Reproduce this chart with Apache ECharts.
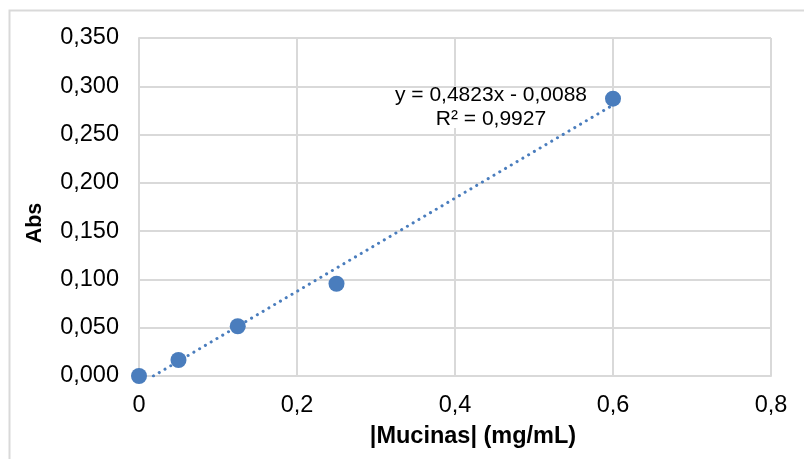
<!DOCTYPE html>
<html>
<head>
<meta charset="utf-8">
<script src="https://cdn.jsdelivr.net/npm/echarts@6/dist/echarts.min.js"></script>
<style>html,body{margin:0;padding:0;background:#fff;}#c{width:804px;height:459px;}</style>
</head>
<body>
<div id="c"></div>
<script>
// data
const concentrations = [0, 0.05, 0.125, 0.25, 0.6];
const absorbances = [0, 0.0166, 0.0515, 0.0955, 0.2872];
// trendline endpoints (from y = 0,4823x - 0,0088, clipped at y = 0)
const trendX = [0.01825, 0.6];
const trendY = [0, 0.2806];
const xTickLabels = ['0', '0,2', '0,4', '0,6', '0,8'];
const yTickLabels = ['0,000', '0,050', '0,100', '0,150', '0,200', '0,250', '0,300', '0,350'];
const equationText = 'y = 0,4823x - 0,0088';
const r2Text = 'R² = 0,9927';
const xTitle = '|Mucinas| (mg/mL)';
const yTitle = 'Abs';

const blue = '#4a7dbd';
const grey = '#d9d9d9';
const font = 'Liberation Sans, Arial, sans-serif';

const chart = echarts.init(document.getElementById('c'), null, {renderer: 'canvas'});
chart.setOption({
  animation: false,
  backgroundColor: '#fff',
  grid: {left: 139, right: 33, top: 38, bottom: 83, containLabel: false},
  xAxis: {
    type: 'value', min: 0, max: 0.8, interval: 0.2,
    name: xTitle, nameLocation: 'middle', nameGap: 49,
    nameTextStyle: {fontFamily: font, fontSize: 23.5, fontWeight: 'bold', color: '#000', padding: [0, 0, 0, 36]},
    axisLine: {show: true, lineStyle: {color: grey, width: 2}},
    axisTick: {show: false},
    splitLine: {show: true, lineStyle: {color: grey, width: 2}},
    axisLabel: {fontFamily: font, fontSize: 23.5, color: '#000', margin: 18,
      formatter: (v) => xTickLabels[Math.round(v / 0.2)]}
  },
  yAxis: {
    type: 'value', min: 0, max: 0.35, interval: 0.05,
    name: yTitle, nameLocation: 'middle', nameGap: 93,
    nameTextStyle: {fontFamily: font, fontSize: 21.5, fontWeight: 'bold', color: '#000', padding: [0, 32, 0, 0]},
    axisLine: {show: true, lineStyle: {color: grey, width: 2}},
    axisTick: {show: false},
    splitLine: {show: true, lineStyle: {color: grey, width: 2}},
    axisLabel: {fontFamily: font, fontSize: 23.5, color: '#000', margin: 20,
      formatter: (v) => yTickLabels[Math.round(v / 0.05)]}
  },
  series: [
    {
      type: 'line',
      data: trendX.map((x, i) => [x, trendY[i]]),
      showSymbol: false,
      symbol: 'none',
      lineStyle: {color: blue, width: 3, type: [0.1, 6.6], cap: 'round'},
      z: 2
    },
    {
      type: 'scatter',
      data: concentrations.map((x, i) => [x, absorbances[i]]),
      symbol: 'circle',
      symbolSize: 16,
      itemStyle: {color: blue, opacity: 1},
      z: 3
    }
  ],
  graphic: [
    {type: 'rect', shape: {x: 9.5, y: 10.5, width: 820, height: 470},
      style: {fill: 'none', stroke: grey, lineWidth: 2}, silent: true},
    {type: 'rect', shape: {x: 392, y: 88, width: 198, height: 40},
      style: {fill: '#fff'}, silent: true, z: 1},
    {type: 'text', x: 491, y: 95, z: 2,
      style: {text: equationText, fontFamily: font, fontSize: 21, fill: '#000', align: 'center', verticalAlign: 'middle'}},
    {type: 'text', x: 491, y: 119, z: 2,
      style: {text: r2Text, fontFamily: font, fontSize: 21, fill: '#000', align: 'center', verticalAlign: 'middle'}}
  ]
});
</script>
</body>
</html>
